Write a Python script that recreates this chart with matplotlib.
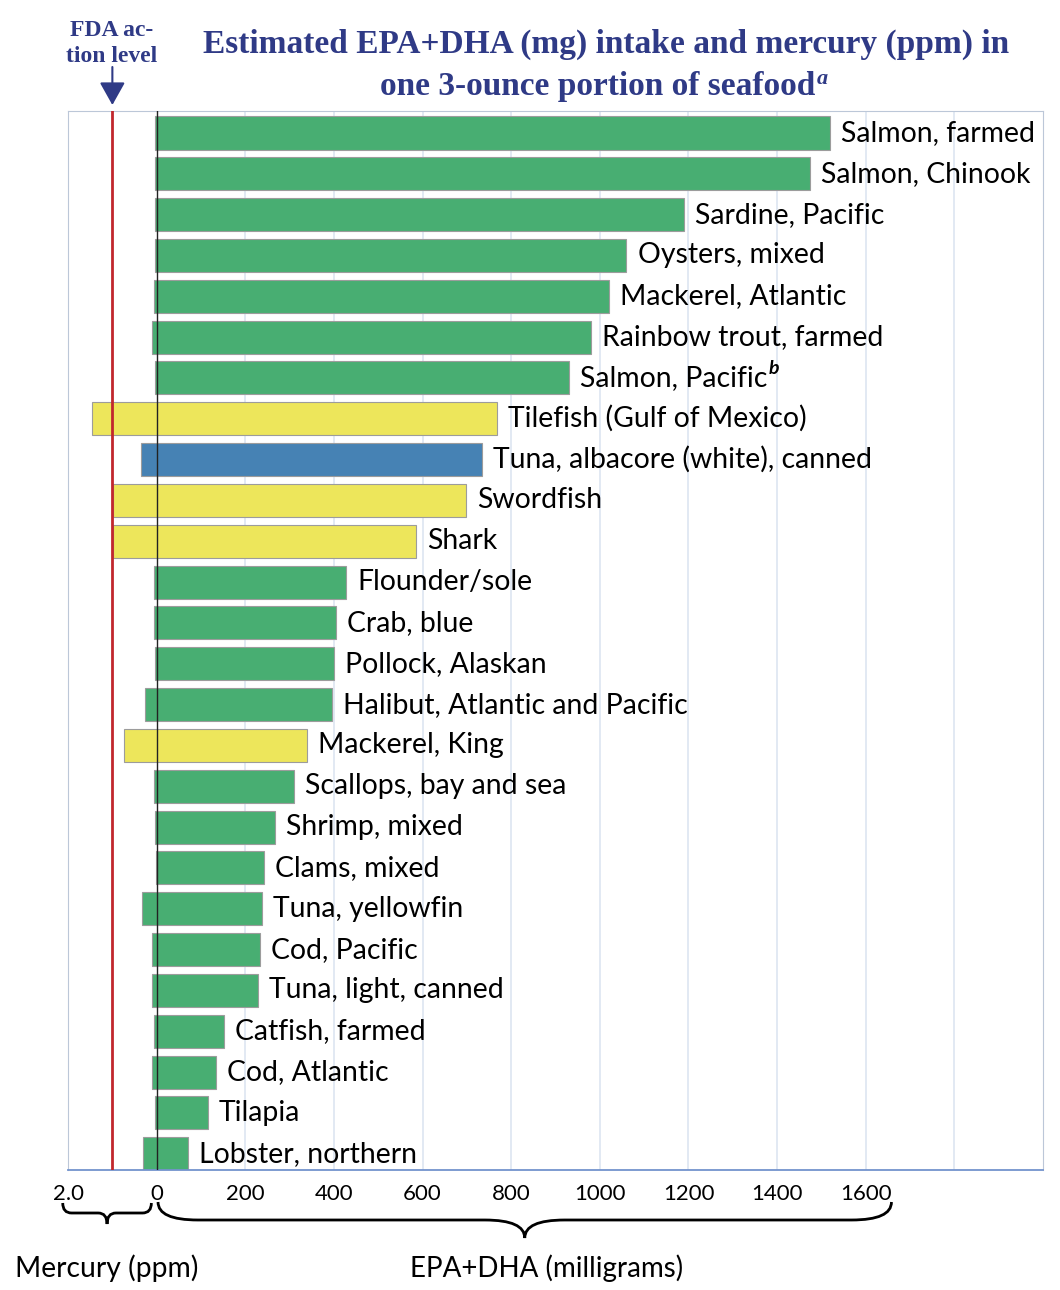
import numpy as np
import matplotlib.pyplot as plt
from matplotlib.path import Path
from matplotlib.patches import PathPatch
import matplotlib.transforms as mtransforms

# Данні: назва, EPA+DHA (мг) та ртуть (ppm)
fish = ["Salmon, farmed", "Salmon, Chinook", "Sardine, Pacific", "Oysters, mixed",
        "Mackerel, Atlantic", "Rainbow trout, farmed", "Salmon, Pacific",
        "Tilefish (Gulf of Mexico)", "Tuna, albacore (white), canned", "Swordfish",
        "Shark", "Flounder/sole", "Crab, blue", "Pollock, Alaskan",
        "Halibut, Atlantic and Pacific", "Mackerel, King", "Scallops, bay and sea",
        "Shrimp, mixed", "Clams, mixed", "Tuna, yellowfin", "Cod, Pacific",
        "Tuna, light, canned", "Catfish, farmed", "Cod, Atlantic", "Tilapia",
        "Lobster, northern"]
epa = [1520, 1475, 1190, 1060, 1020, 980, 930, 767, 733, 697, 585, 427, 404, 400,
       395, 339, 309, 266, 242, 237, 233, 228, 151, 133, 115, 70]
mercury = [0.03, 0.03, 0.03, 0.03, 0.07, 0.1, 0.03, 1.45, 0.36, 0.99, 0.99, 0.06,
           0.07, 0.03, 0.26, 0.74, 0.06, 0.03, 0.01, 0.34, 0.11, 0.11, 0.06, 0.11,
           0.03, 0.31]
group = ["low"] * 7 + ["high", "albacore", "high", "high"] + ["low"] * 4 + ["high"] + ["low"] * 10
superscript = {"Salmon, Pacific": "b"}

tick_pos = [-200, 0, 200, 400, 600, 800, 1000, 1200, 1400, 1600]
tick_labels = ["2.0", "0", "200", "400", "600", "800", "1000", "1200", "1400", "1600"]
grid_pos = [200, 400, 600, 800, 1000, 1200, 1400, 1600, 1800]
fda_level = 1.0  # ppm

colors = {"low": "#48ae72", "high": "#ede65b", "albacore": "#4682b4"}
navy = "#2f3a86"
label_font = "Lato"

fig = plt.figure(figsize=(10.6, 12.9), dpi=100)
ax = fig.add_axes([0.0642, 0.093, 0.9198, 0.821])

# ртуть відкладається ліворуч: 1 ppm = 100 одиниць шкали
left = -100 * np.array(mercury)
y = np.arange(len(fish))
ax.barh(y, np.array(epa) - left, left=left, height=0.81,
        color=[colors[g] for g in group], edgecolor="#9c9c9c", linewidth=0.8, zorder=2)

for v in grid_pos:
    ax.axvline(v, color="#dde5f1", lw=1.2, zorder=1)
ax.axvline(0, color="#222222", lw=1, zorder=3)
ax.axvline(-100 * fda_level, color="#c1272d", lw=2, zorder=3)

ax.set_xlim(-200, 2000)
ax.set_ylim(len(fish) - 0.6, -0.54)
ax.set_yticks([])
ax.set_xticks(tick_pos)
ax.set_xticklabels(tick_labels, family=label_font, fontsize=16)
ax.tick_params(axis="x", length=0, pad=10)

for s in ["left", "top", "right"]:
    ax.spines[s].set_color("#bcc7d8")
ax.spines["bottom"].set_color("#7393cd")
ax.spines["bottom"].set_linewidth(1.3)

labels = []
for yi, name, e in zip(y, fish, epa):
    t = ax.annotate(name, (e, yi), xytext=(8, 0), textcoords="offset points",
                    va="center", ha="left", fontsize=20.4, family=label_font)
    labels.append(t)

# заголовок
t1 = fig.text(0.572, 1 - 44 / 1290, "Estimated EPA+DHA (mg) intake and mercury (ppm) in",
              ha="center", va="center", fontsize=24, fontweight="bold",
              family="Liberation Serif", color=navy)
t2 = fig.text(0.564, 1 - 86 / 1290, "one 3-ounce portion of seafood",
              ha="center", va="center", fontsize=24, fontweight="bold",
              family="Liberation Serif", color=navy)
fig.text(112 / 1060, 1 - 30 / 1290, "FDA ac-", ha="center", va="center",
         fontsize=17, fontweight="bold", family="Liberation Serif", color=navy)
fig.text(112 / 1060, 1 - 56 / 1290, "tion level", ha="center", va="center",
         fontsize=17, fontweight="bold", family="Liberation Serif", color=navy)
ax.annotate("", xy=(-100 * fda_level, 1 - 105 / 1290), xytext=(-100 * fda_level, 1 - 67 / 1290),
            xycoords=("data", "figure fraction"), textcoords=("data", "figure fraction"),
            arrowprops=dict(arrowstyle="-|>,head_length=0.5,head_width=0.28",
                            mutation_scale=28, color=navy, lw=1.5, shrinkA=0, shrinkB=0))

fig.canvas.draw()
r = fig.canvas.get_renderer()
inv = fig.transFigure.inverted()
bb = t2.get_window_extent(r)
x0, y0 = inv.transform((bb.x1 + 1, bb.y1 - 8))
fig.text(x0, y0, "a", ha="left", va="center", fontsize=16, fontweight="bold",
         style="italic", family="Liberation Serif", color=navy)
for t, name in zip(labels, fish):
    if name in superscript:
        bb = t.get_window_extent(r)
        x0, y0 = inv.transform((bb.x1 + 1, bb.y1 - 4))
        fig.text(x0, y0, superscript[name], ha="left", va="center", fontsize=14,
                 fontweight="bold", style="italic", family=label_font)


# фігурні дужки під шкалою
def brace(xa, xb, y_top, y_mid, y_tip, r):
    xm = (xa + xb) / 2
    verts = [(xa, y_top), (xa, y_mid), (xa + r, y_mid), (xm - r, y_mid), (xm, y_mid),
             (xm, y_tip), (xm, y_mid), (xm + r, y_mid), (xb - r, y_mid), (xb, y_mid),
             (xb, y_top)]
    codes = [Path.MOVETO, Path.CURVE3, Path.CURVE3, Path.LINETO, Path.CURVE3, Path.CURVE3,
             Path.CURVE3, Path.CURVE3, Path.LINETO, Path.CURVE3, Path.CURVE3]
    tr = mtransforms.blended_transform_factory(ax.transData, fig.transFigure)
    ax.add_patch(PathPatch(Path(verts, codes), transform=tr, fill=False,
                           lw=2, color="black", clip_on=False))


h = 1290
brace(-212, -12, 1 - 1203 / h, 1 - 1213 / h, 1 - 1224 / h, 20)
brace(3, 1658, 1 - 1202 / h, 1 - 1220 / h, 1 - 1238 / h, 90)

fig.text(15 / 1060, 1 - 1268 / h, "Mercury (ppm)", ha="left", va="center",
         fontsize=20.3, family=label_font)
fig.text(547 / 1060, 1 - 1268 / h, "EPA+DHA (milligrams)", ha="center", va="center",
         fontsize=20, family=label_font)

fig.savefig("out.png", dpi=100)
